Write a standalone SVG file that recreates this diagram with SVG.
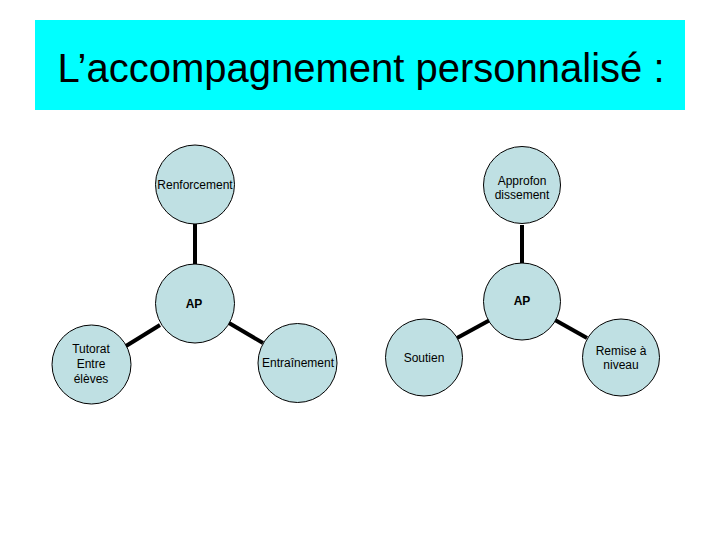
<svg xmlns="http://www.w3.org/2000/svg" width="720" height="540" viewBox="0 0 720 540">
<style>
.n{fill:#bfe0e3;stroke:#000;stroke-width:1}
.t{font-family:"Liberation Sans",Arial,sans-serif;font-size:12px;fill:#000;text-anchor:middle}
.b{font-weight:bold}
.c{stroke:#000;stroke-width:4;fill:none}
</style>
<rect width="720" height="540" fill="#fff"/>
<g id="title">
<rect x="35" y="20" width="650" height="90" fill="#00ffff"/>
<text x="361" y="82" font-family="Liberation Sans, Arial, sans-serif" font-size="40" text-anchor="middle" fill="#000">L’accompagnement personnalisé :</text>
</g>
<g id="connectors">
<line class="c" x1="195" y1="224" x2="195" y2="264"/>
<line class="c" x1="229" y1="323" x2="263" y2="343"/>
<line class="c" x1="160" y1="325" x2="126" y2="346"/>
<line class="c" x1="522" y1="225" x2="522" y2="263"/>
<line class="c" x1="490" y1="320" x2="457" y2="338"/>
<line class="c" x1="555" y1="320" x2="587" y2="338"/>
</g>
<g id="renforcement"><circle class="n" cx="195" cy="184.5" r="39.5"/><text class="t" x="195" y="189">Renforcement</text></g>
<g id="ap-left"><circle class="n" cx="195" cy="303.5" r="39.5"/><text class="t b" x="194" y="308">AP</text></g>
<g id="entrainement"><circle class="n" cx="297.5" cy="363" r="39.5"/><text class="t" x="298" y="367">Entraînement</text></g>
<g id="tutorat"><circle class="n" cx="91.5" cy="364.5" r="39.5"/><text class="t" x="91" y="353">Tutorat</text><text class="t" x="91" y="368">Entre</text><text class="t" x="91" y="383">élèves</text></g>
<g id="approfondissement"><circle class="n" cx="522" cy="185" r="38.5"/><text class="t" x="522" y="185">Approfon</text><text class="t" x="522" y="199">dissement</text></g>
<g id="ap-right"><circle class="n" cx="522" cy="301.5" r="38.5"/><text class="t b" x="522" y="305">AP</text></g>
<g id="soutien"><circle class="n" cx="424" cy="357.5" r="38.5"/><text class="t" x="424" y="362">Soutien</text></g>
<g id="remise"><circle class="n" cx="621" cy="357.5" r="38.5"/><text class="t" x="621" y="355">Remise à</text><text class="t" x="621" y="369">niveau</text></g>
</svg>
